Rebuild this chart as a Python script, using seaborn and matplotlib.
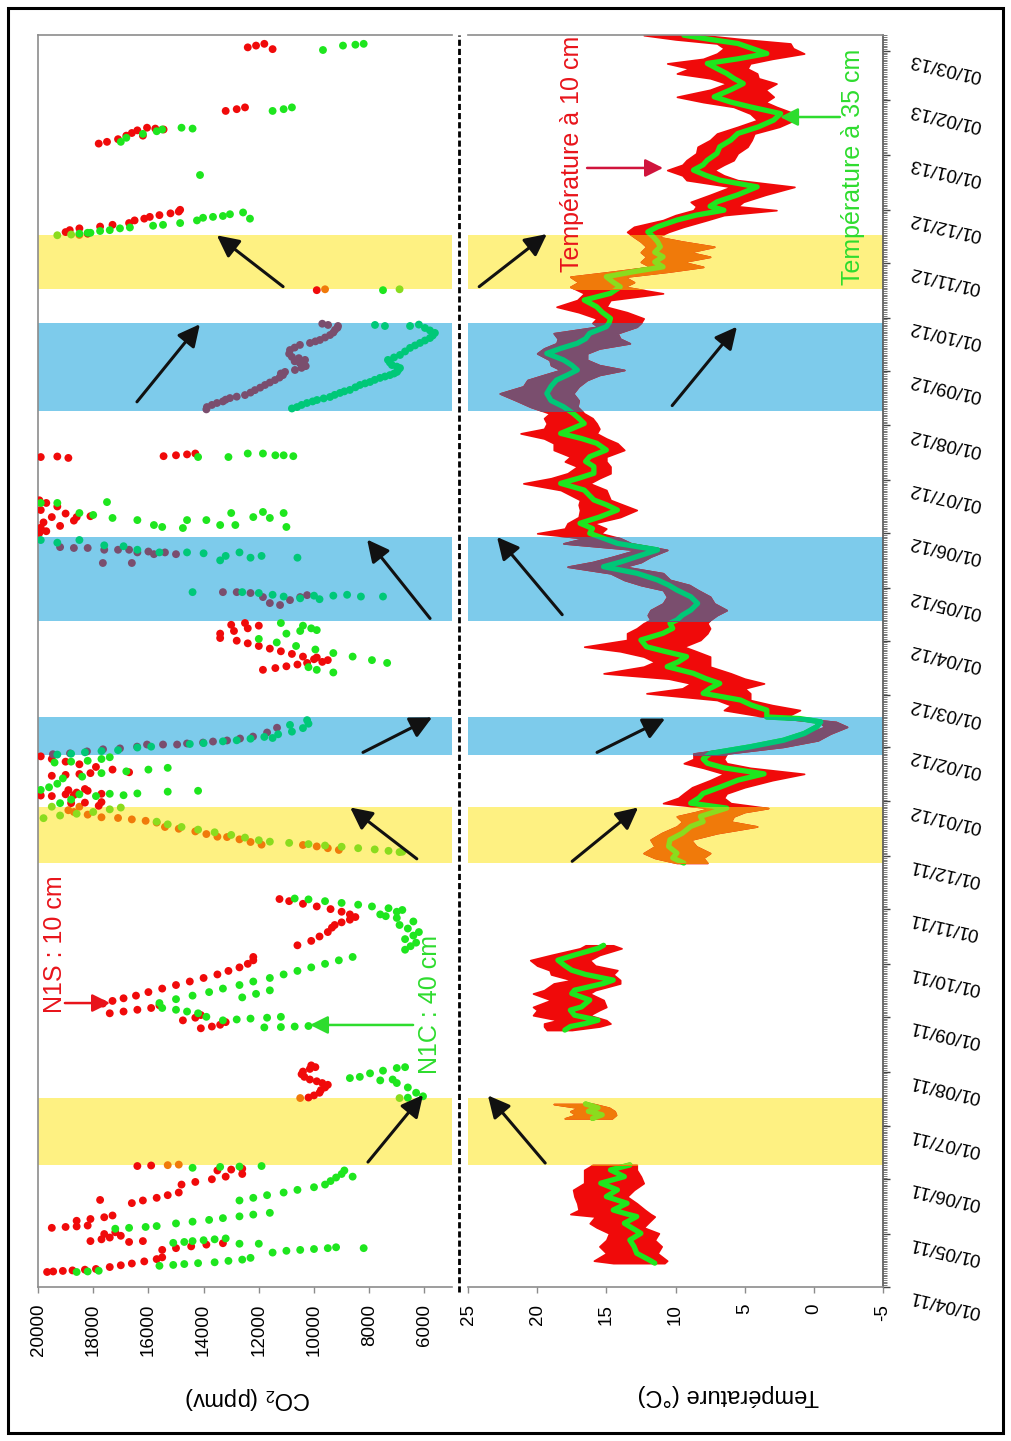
import numpy as np
import pandas as pd
import matplotlib
matplotlib.use("Agg")
import matplotlib.pyplot as plt
import matplotlib.dates as mdates
import matplotlib.transforms as mtransforms
from matplotlib.patches import Rectangle
from matplotlib.lines import Line2D
import seaborn as sns

# ---------------------------------------------------------------- data
# time is given as days since 01/04/2011
START_DATE = "2011-04-01"
END_DATE = "2013-03-10"

yellow_bands = [("2011-06-09", "2011-07-17"), ("2011-11-27", "2011-12-29"), ("2012-10-17", "2012-11-17")]
blue_bands = [("2012-01-27", "2012-02-18"), ("2012-04-12", "2012-05-30"), ("2012-08-09", "2012-09-28")]

co2_ticks = [20000, 18000, 16000, 14000, 12000, 10000, 8000, 6000]
temp_ticks = [25, 20, 15, 10, 5, 0, -5]

# CO2 N1S (10 cm) : (day, ppmv)
n1s_spring11 = [(8.5, 19670), (8.8, 19450), (9.1, 19100), (9.4, 18750), (9.8, 18300), (10.2, 17900),
                (11.3, 17400), (12.3, 17000), (13.3, 16600), (14.5, 16150), (15.8, 15700), (16.8, 15500),
                (21.0, 15500), (22.0, 15000), (23.0, 14450), (24.0, 13900), (24.8, 13300),
                (25.5, 16700), (26.0, 16200), (26.0, 18100), (27.0, 17700), (28.0, 17400), (29.0, 17000),
                (30.0, 17600), (31.0, 17200), (33.5, 19500), (34.0, 19000), (34.3, 18600), (34.8, 18200),
                (37.5, 18600), (38.5, 18100), (39.5, 17600), (40.5, 17300),
                (47.5, 16600), (49.0, 16200), (49.3, 17750), (50.5, 15700), (52.0, 15300), (53.5, 14900),
                (58.0, 14800), (59.5, 14300), (61.0, 13700), (62.5, 13200), (64.0, 12600),
                (66.0, 13500), (66.5, 13000), (67.0, 12600), (68.5, 16400), (68.8, 15900), (69.0, 15300), (69.3, 14900)]
n1s_summer11 = [(107.0, 10500), (107.3, 10200), (108.5, 10000), (110.0, 9800), (111.5, 9750), (113.0, 9600),
                (114.5, 9500), (115.5, 9700), (116.5, 9900), (117.5, 10150), (119.0, 10350), (120.5, 10450),
                (122.0, 10400), (123.5, 10150), (124.5, 9950), (125.5, 10100)]
n1s_autumn11 = [(146.5, 14100), (147.5, 13700), (148.5, 13400), (150.0, 13200), (151.0, 14750), (152.5, 14300),
                (154.0, 14100), (155.0, 17400), (156.0, 16900), (157.0, 16400), (158.0, 15900), (159.5, 15600),
                (160.5, 17650), (162.0, 17300), (163.5, 16900), (165.0, 16450), (167.0, 16000), (169.0, 15500),
                (171.0, 15000), (173.0, 14500), (175.0, 14000), (177.0, 13500), (179.0, 13100), (181.0, 12700),
                (183.0, 12400), (185.0, 12200), (186.9, 12200),
                (193.5, 10600), (196.0, 10100), (198.5, 9800), (201.0, 9500), (203.5, 9350), (205.0, 9250),
                (206.5, 9000), (208.0, 8700), (209.5, 8500), (211.0, 8700), (212.5, 9000), (214.0, 9400),
                (215.5, 9900), (217.0, 10400), (218.5, 10900), (219.7, 11250)]
n1s_winter12 = [(247.5, 9100), (248.5, 9500), (249.5, 9900), (250.3, 10400), (250.5, 11900), (252.0, 12300),
                (253.5, 12700), (254.8, 13150), (255.0, 13500), (256.5, 13900), (258.0, 14300), (259.5, 14900),
                (260.5, 15400), (263.0, 15700), (264.0, 16100), (264.8, 16600), (265.6, 17100), (266.0, 17700),
                (267.5, 18200), (269.0, 18700), (270.0, 18900),
                (272.0, 18500), (272.5, 17800), (274.0, 18800), (274.3, 18300), (274.6, 17700),
                (278.0, 19500), (278.3, 19900), (278.6, 18700), (279.0, 19000), (279.3, 17700), (280.0, 18600),
                (281.0, 18200), (281.4, 18900), (282.0, 18300), (289.5, 19500), (290.0, 19000), (290.5, 18500),
                (291.0, 18100), (291.5, 16700), (293.0, 17300), (294.5, 17900), (296.0, 18500), (297.5, 19000),
                (299.0, 19500), (300.5, 19900),
                (301.7, 19460), (302.2, 18840), (303.3, 18225), (304.5, 17645), (305.0, 17030), (306.0, 16410),
                (307.2, 16050), (307.2, 15470), (307.2, 14960), (307.8, 14600), (308.3, 14020), (308.9, 13660),
                (309.5, 13150), (310.6, 12680), (311.7, 12210), (314.0, 11700), (316.7, 11340)]
n1s_spring12 = [(349.5, 11850), (350.5, 11400), (351.5, 11000), (352.5, 10600), (353.4, 10250), (354.0, 9700),
                (355.0, 9500), (356.5, 9900), (355.5, 10000), (357.0, 10400), (358.5, 10800), (360.0, 11200),
                (361.5, 11600), (363.0, 12000), (364.5, 12400), (366.0, 12800), (367.5, 13400),
                (370.0, 13400), (371.5, 12900), (373.0, 12400), (374.5, 12000), (375.0, 13000), (376.0, 12500),
                (393.5, 13300), (393.5, 12800), (393.0, 12300), (390.7, 11850), (387.3, 11600), (386.2, 11230),
                (389.0, 10870), (390.7, 10500), (391.8, 10250),
                (419.0, 19200), (418.5, 18700), (418.5, 18200), (417.5, 17600), (417.5, 17100), (417.5, 16700),
                (416.0, 16400), (416.5, 16000), (415.0, 15800), (416.0, 15400), (415.0, 15000), (410.0, 17650),
                (410.0, 16600)]
n1s_summer12 = [(427.0, 19950), (428.0, 19700), (430.0, 19900), (431.0, 19200), (433.0, 19800), (434.0, 18700),
                (436.0, 19500), (436.0, 18600), (436.5, 18100), (438.0, 19000), (440.0, 19900), (442.0, 19300),
                (444.0, 19700), (445.5, 19950), (469.5, 18900), (470.0, 19900), (470.3, 19300), (470.5, 15450),
                (471.0, 15000), (471.5, 14600), (472.0, 14300),
                (497.0, 13900), (498.3, 13880), (499.5, 13700), (500.6, 13515), (501.5, 13300), (502.5, 13200),
                (503.4, 13045), (504.2, 12800), (505.1, 12500), (506.5, 12300), (507.9, 12140), (509.3, 11950),
                (510.8, 11775), (512.2, 11600), (513.6, 11415), (515.0, 11250), (516.4, 11125), (517.3, 11200),
                (518.2, 11050), (519.3, 10690), (520.5, 10450), (521.5, 10300), (523.2, 10510), (524.2, 10700),
                (525.0, 10325), (526.0, 10550), (526.7, 10800), (528.5, 10900), (530.6, 10870), (532.0, 10700),
                (533.5, 10510), (534.6, 10145), (535.5, 9950), (536.3, 9785), (537.7, 9600), (539.1, 9420),
                (540.5, 9300), (542.0, 9240), (543.2, 9150), (544.2, 9130), (544.8, 9490), (545.5, 9700)]
n1s_autumn12 = [(564.5, 9900), (565.0, 9600), (595.8, 18500), (596.5, 18200),
                (597.4, 19000), (598.5, 18850), (599.5, 18500), (600.5, 17750), (601.5, 17300), (602.5, 16700),
                (604.0, 16500), (605.0, 16150), (606.0, 15950), (607.0, 15600), (608.0, 15200), (609.0, 14900),
                (610.0, 14850), (647.5, 17800), (648.5, 17500), (650.0, 17100), (652.0, 16800), (652.0, 16200),
                (653.5, 16600), (655.0, 16400), (655.5, 15450), (656.0, 15750), (656.5, 16050),
                (666.0, 13200), (667.0, 12800), (668.0, 12500), (701.0, 11500), (702.0, 12400), (703.0, 12100),
                (704.0, 11800)]

# CO2 N1C (40 cm) : (day, ppmv)
n1c_spring11 = [(8.5, 18600), (8.8, 18200), (9.2, 17800), (12.0, 15600), (12.5, 15100), (13.0, 14700),
                (13.5, 14200), (14.0, 13600), (14.8, 13100), (15.5, 12600), (16.5, 12300),
                (19.5, 11500), (20.5, 11000), (21.0, 10500), (21.5, 10000), (22.0, 9500), (22.5, 9200), (22.0, 8200),
                (24.5, 12700), (24.5, 12000), (25.0, 15100), (25.5, 14700), (26.0, 14400), (26.5, 14000),
                (27.0, 13600), (27.5, 13200), (33.0, 17200), (33.5, 16700), (34.0, 16100), (34.5, 15700),
                (36.0, 15000), (37.0, 14400), (38.0, 13800), (39.0, 13300), (40.0, 12700), (41.0, 12200),
                (42.0, 11600), (49.0, 12700), (50.5, 12200), (52.0, 11700), (53.5, 11100), (55.0, 10600),
                (56.5, 10000), (58.0, 9600), (60.0, 9400), (62.0, 9200), (62.5, 8600), (64.0, 9000), (66.0, 8900),
                (67.5, 14400), (68.0, 13400), (68.2, 12700), (68.5, 11900)]
n1c_summer11 = [(107.0, 6900), (107.2, 6600), (108.0, 6050), (110.0, 6300), (113.0, 6600), (115.5, 7000),
                (117.0, 7600), (117.5, 7150), (118.3, 8700), (119.0, 8340), (121.0, 7970), (122.5, 7500),
                (124.0, 7000), (124.5, 6700)]
n1c_autumn11 = [(147.0, 11800), (147.2, 11200), (147.5, 10700), (147.8, 10200), (151.0, 13300), (151.5, 12800),
                (152.0, 12300), (152.5, 11700), (153.0, 11200), (153.0, 13900), (155.0, 14200), (156.0, 14600),
                (157.0, 15000), (158.0, 15500), (160.8, 15600), (163.0, 15000), (164.0, 12600), (165.0, 14400),
                (166.0, 12100), (167.0, 13800), (168.0, 11600), (169.0, 13300), (171.0, 12700), (173.0, 12200),
                (175.0, 11600), (177.0, 11100), (179.0, 10600), (181.0, 10100), (183.0, 9600), (185.0, 9100),
                (186.9, 8600), (191.0, 6700), (193.0, 6500), (195.0, 6300), (197.0, 6700), (199.0, 6400),
                (201.0, 6200), (203.0, 6600), (205.0, 6900), (207.0, 6400), (209.0, 7000), (210.0, 7400),
                (211.0, 7600), (212.5, 7000), (213.5, 6800), (214.5, 7300), (215.5, 7900), (216.5, 8400),
                (217.5, 9000), (218.5, 9600), (219.5, 10200), (220.0, 10700)]
n1c_winter12 = [(246.3, 6900), (246.5, 6800), (247.0, 7300), (247.8, 7800), (248.5, 8400), (249.3, 9000),
                (250.0, 9600), (250.8, 10200), (251.5, 10900), (252.2, 11600), (253.0, 12000), (254.5, 12500),
                (256.0, 13000), (257.5, 13600), (259.0, 14200), (260.5, 14800), (262.0, 15300), (263.5, 15700),
                (265.5, 19800), (267.0, 19200), (268.0, 18600), (269.0, 18000), (270.5, 17400), (271.5, 17000),
                (272.0, 19500), (274.0, 19200), (276.0, 18800), (278.0, 17900), (278.5, 16900), (279.0, 18500),
                (279.3, 17400), (279.5, 16400), (280.5, 15300), (281.0, 14200), (281.5, 19900), (283.0, 19600),
                (285.0, 19300), (288.0, 19100), (289.0, 18400), (291.0, 17700), (292.0, 16800), (293.0, 16000),
                (294.0, 15300), (297.0, 19400), (297.5, 18800), (298.0, 18200), (299.0, 17700), (300.0, 17400),
                (301.5, 19300), (302.0, 18800), (302.8, 18300), (303.5, 17700), (304.0, 17100), (305.5, 16400),
                (306.0, 15900), (307.5, 14500), (308.0, 14000), (309.0, 13300), (309.6, 12800), (310.5, 12300),
                (310.9, 11500), (311.5, 11800), (313.0, 11300), (314.5, 10800), (316.5, 10400), (318.3, 10870),
                (319.0, 10200), (321.0, 10250)]
n1c_spring12 = [(348.0, 9300), (349.5, 9900), (351.0, 10200), (353.4, 7350), (355.0, 7900), (357.0, 8600),
                (359.0, 9300), (361.0, 9950), (363.0, 10650), (365.0, 11350), (367.0, 12000), (370.0, 11000),
                (371.5, 10500), (372.0, 9900), (373.0, 10100), (374.5, 10400), (376.0, 11200),
                (391.0, 7500), (391.0, 8300), (392.0, 8800), (391.5, 9300), (389.5, 9800), (391.5, 10000),
                (390.0, 10500), (391.0, 11100), (392.0, 11500), (393.0, 12000), (393.5, 12600), (393.5, 14400),
                (413.0, 10600), (414.0, 11900), (413.0, 12300), (416.0, 12700), (414.0, 13200), (411.5, 13400),
                (415.5, 14000), (416.0, 14600), (416.0, 15600), (417.5, 16400), (419.5, 16900), (420.0, 17600),
                (423.0, 18500), (421.5, 19300), (423.0, 19900)]
n1c_summer12 = [(444.0, 19900), (444.0, 19300), (444.5, 17500), (438.3, 18500), (437.2, 18000), (435.5, 17300),
                (434.3, 16400), (431.5, 15800), (430.4, 15500), (434.3, 14600), (429.8, 14750), (434.3, 13900),
                (431.5, 13400), (438.3, 13000), (436.0, 12200), (438.9, 11850), (435.5, 11600), (430.4, 11000),
                (431.5, 12850), (438.3, 11100), (470.0, 14200), (470.0, 13100), (472.0, 12400), (472.0, 11850),
                (471.0, 11400), (471.0, 11100), (470.5, 10750),
                (497.5, 10800), (498.3, 10615), (499.5, 10450), (500.6, 10255), (501.5, 10050), (502.3, 9890),
                (503.2, 9650), (504.0, 9420), (505.2, 9250), (506.3, 9060), (507.2, 8900), (508.0, 8700),
                (509.5, 8500), (510.8, 8335), (511.7, 8150), (512.5, 7970), (513.7, 7800), (514.8, 7610),
                (515.6, 7430), (516.4, 7250), (517.3, 7100), (518.2, 6995), (519.3, 6950), (520.4, 6885),
                (521.2, 7000), (522.1, 7175), (523.5, 7250), (525.0, 7320), (526.4, 7100), (527.8, 6885),
                (529.8, 6700), (531.8, 6520), (533.2, 6340), (534.6, 6160), (536.0, 5980), (537.4, 5800),
                (538.8, 5700), (540.3, 5620), (541.7, 5800), (543.1, 5980), (544.2, 6520), (544.2, 7430),
                (544.8, 7790), (545.0, 6200)]
n1c_autumn12 = [(564.5, 7500), (565.0, 6900), (595.6, 19300), (596.0, 18800), (596.5, 18500), (597.0, 18200),
                (597.0, 18100), (598.0, 17750), (598.5, 17400), (599.5, 17030), (600.0, 16670), (601.0, 15830),
                (601.5, 15470), (602.5, 14850), (604.0, 14240), (605.0, 12320), (605.5, 14020), (606.0, 13660),
                (606.5, 13300), (607.5, 13045), (608.5, 12570), (629.7, 14130), (648.5, 17000), (650.8, 16800),
                (653.0, 16200), (654.5, 15700), (655.5, 15500), (656.0, 14400), (656.5, 14800),
                (666.0, 11500), (667.0, 11100), (668.0, 10800), (700.5, 9675), (703.0, 8950), (703.5, 8500),
                (704.0, 8200)]

# Temperature : day, 35 cm value, 10 cm min and max (daily amplitude)
temp_day = [13.5, 14.9, 19.1, 23.0, 26.6, 30.4, 33.7, 36.1, 39.9, 41.3, 43.6, 47.4, 51.2, 55.0, 58.8, 62.5, 66.3, 69.1,
            95.5, 97.5, 99.5, 101.5, 103.6,
            145.5, 147.5, 149.2, 151.1, 153.9, 156.8, 158.6, 162.5, 166.2, 168.1, 171.9, 173.8, 177.0, 179.4, 182.0,
            185.1, 188.0, 191.8, 193.5,
            240.1, 243.0, 245.7, 249.5, 253.3, 257.0, 260.8, 263.5, 266.5, 269.0, 271.2, 274.0, 277.0, 279.5, 283.0,
            287.0, 290.6, 294.0, 296.6, 299.0, 302.1, 305.9, 309.6, 313.4, 317.2, 320.0, 321.9, 322.8, 326.7, 329.5,
            332.4, 336.2, 339.0, 341.8, 344.5, 347.5, 351.3, 354.0, 357.0, 360.0, 362.6, 366.4, 370.2, 373.0, 375.9,
            377.7, 380.5, 383.3, 387.1, 390.9, 394.7, 397.5, 400.4, 404.2, 407.9, 410.5, 413.6, 417.4, 421.1, 424.0,
            426.8, 429.5, 432.5, 436.0, 440.0, 443.0, 445.7, 451.3, 455.1, 458.0, 460.8, 464.6, 467.5, 470.2, 474.0,
            477.8, 480.5, 483.4, 486.0, 489.0, 492.0, 494.7, 498.5, 502.0, 506.0, 510.0, 513.6, 516.5, 519.3, 522.0,
            525.0, 528.7, 531.5, 534.4, 537.0, 540.1, 543.8, 546.0, 548.5, 552.0, 555.1, 558.9, 562.7, 566.4, 569.0,
            572.1, 575.0, 577.7, 580.5, 583.4, 586.0, 589.1, 592.0, 594.7, 597.5, 600.4, 604.2, 607.0, 609.8, 612.0,
            614.5, 618.5, 623.0, 626.8, 629.5, 632.5, 635.5, 638.1, 642.0, 645.7, 649.5, 653.2, 657.0, 660.8, 664.5,
            668.3, 671.0, 674.0, 678.0, 681.5, 684.5, 687.2, 690.0, 692.9, 695.5, 698.5, 701.5, 704.2, 706.5, 708.9]
temp_35cm = [11.5, 11.8, 12.8, 13.0, 13.3, 12.5, 13.2, 13.7, 12.8, 13.5, 14.5, 13.5, 15.0, 14.2, 15.4, 13.7, 14.7, 13.3,
             16.0, 15.3, 16.3, 15.6, 16.5,
             18.0, 17.6, 16.5, 15.6, 17.3, 17.6, 16.8, 16.2, 17.5, 17.3, 15.2, 14.5, 16.5, 17.5, 18.0, 18.5, 17.3, 15.6,
             15.2,
             9.4, 10.2, 9.9, 10.5, 10.4, 9.5, 8.9, 8.0, 8.2, 7.2, 6.3, 8.9, 8.3, 8.0, 6.8, 5.5, 3.6, 6.5, 7.7, 8.0,
             7.5, 4.6, 2.2, 0.7, -0.2, -0.5, 1.0, 3.4, 3.4, 4.5, 5.3, 8.0, 7.5, 6.8, 7.8, 8.7, 10.6, 9.8, 9.2, 10.8,
             12.1, 12.5, 10.9, 10.2, 10.4, 9.9, 9.5, 8.9, 8.4, 8.9, 9.9, 10.5, 11.3, 12.8, 15.2, 14.0, 12.8, 11.3,
             14.2, 15.2, 16.2, 16.0, 16.9, 15.5, 14.2, 15.0, 15.9, 16.6, 18.3, 17.0, 15.9, 15.9, 16.5, 16.2, 15.0,
             15.7, 16.8, 18.3, 17.5, 16.6, 17.0, 17.4, 18.1, 19.0, 19.3, 19.0, 18.6, 17.8, 17.1, 17.5, 18.1, 19.3,
             18.3, 17.1, 16.5, 16.2, 15.0, 14.8, 14.7, 15.3, 15.7, 16.6, 14.7, 14.0, 14.5, 15.0, 13.0, 10.9, 11.5,
             10.9, 11.5, 11.1, 11.3, 11.6, 12.0, 11.3, 9.9, 8.5, 6.5, 7.5, 7.0, 5.5, 4.1, 6.8, 7.8, 8.7, 8.0, 7.7,
             7.0, 6.8, 6.0, 5.5, 4.0, 2.9, 2.4, 4.6, 6.0, 7.2, 6.0, 5.1, 5.8, 6.3, 7.0, 7.7, 5.5, 3.4, 4.5, 5.5,
             7.5, 9.4]
temp_10cm_min = [10.8, 10.6, 11.3, 11.0, 11.5, 11.2, 12.3, 12.0, 11.5, 11.8, 12.2, 12.8, 13.5, 13.0, 12.3, 12.5, 12.8, 12.8,
                 14.6, 14.3, 14.4, 14.8, 15.9,
                 17.5, 15.5, 14.7, 15.0, 16.2, 15.5, 15.0, 15.2, 16.2, 15.8, 14.0, 14.0, 14.5, 14.2, 15.8, 16.2, 15.5,
                 13.9, 14.5,
                 7.7, 8.0, 7.5, 8.5, 8.9, 7.0, 4.1, 6.0, 5.8, 5.0, 3.3, 6.0, 6.5, 6.3, 5.0, 3.0, 0.7, 4.6, 6.3, 6.5,
                 6.3, 2.2, -0.3, -1.2, -2.4, -1.6, 0.8, 2.0, 1.0, 3.0, 4.6, 4.6, 5.0, 3.6, 5.0, 6.0, 7.5, 7.5, 7.5,
                 8.5, 9.4, 8.2, 7.7, 7.5, 7.7, 7.5, 7.0, 6.3, 7.2, 7.5, 8.4, 9.0, 10.4, 10.9, 13.7, 12.5, 11.8, 10.6,
                 13.2, 14.0, 15.4, 15.0, 15.9, 14.0, 12.8, 13.8, 14.7, 15.0, 16.2, 15.5, 14.7, 14.7, 15.0, 15.0, 13.7,
                 14.2, 15.0, 15.7, 15.5, 15.7, 16.0, 16.6, 17.1, 17.0, 17.4, 17.0, 16.4, 15.5, 13.7, 15.5, 16.4, 16.4,
                 15.5, 13.3, 14.0, 14.2, 12.8, 12.5, 12.3, 13.5, 15.0, 14.7, 10.9, 13.7, 13.0, 13.7, 10.5, 8.0, 9.5,
                 7.5, 9.0, 7.2, 9.5, 11.3, 10.5, 9.4, 7.7, 6.5, 2.7, 5.5, 5.1, 3.5, 1.4, 5.5, 6.5, 7.2, 6.5, 5.8, 5.5,
                 4.8, 4.5, 4.3, 2.5, 1.4, 1.4, 2.7, 3.5, 2.9, 3.5, 2.7, 4.0, 4.1, 4.8, 4.6, 3.0, 0.7, 1.5, 1.7, 5.0,
                 8.0]
temp_10cm_max = [14.5, 15.9, 15.0, 15.5, 15.0, 14.8, 15.7, 16.2, 15.8, 17.6, 17.0, 17.1, 17.3, 17.4, 16.6, 16.6, 16.6, 16.0,
                 18.0, 17.2, 17.6, 17.0, 18.8,
                 19.3, 19.5, 19.5, 18.5, 20.3, 20.0, 20.3, 19.0, 20.3, 19.5, 18.8, 17.5, 19.0, 19.1, 20.0, 20.5, 19.0,
                 16.9, 16.5,
                 9.9, 11.5, 12.3, 11.5, 11.8, 11.0, 9.9, 9.5, 9.9, 8.5, 7.5, 10.9, 9.8, 9.4, 8.8, 7.5, 6.5, 8.0, 9.4,
                 8.7, 8.7, 5.1, 2.5, 0.5, -0.8, -0.4, 2.2, 3.5, 6.5, 6.0, 7.0, 12.1, 9.5, 8.9, 10.5, 15.2, 12.3, 11.5,
                 12.3, 14.0, 16.6, 13.5, 13.5, 12.8, 12.3, 11.8, 12.0, 11.8, 10.9, 10.6, 10.9, 12.5, 13.7, 14.7, 17.8,
                 16.0, 14.5, 12.8, 18.1, 16.6, 20.0, 18.0, 17.8, 17.0, 16.9, 17.0, 16.9, 18.3, 21.0, 19.0, 17.8, 17.1,
                 18.0, 17.6, 18.8, 18.8, 19.5, 21.2, 19.5, 19.3, 19.5, 19.1, 20.5, 21.5, 22.7, 21.0, 20.7, 19.5, 18.3,
                 19.0, 19.1, 20.0, 19.5, 18.6, 18.5, 18.8, 15.6, 16.0, 15.7, 17.0, 18.6, 17.1, 16.6, 17.6, 17.0, 17.6,
                 14.5, 11.8, 12.5, 12.1, 12.5, 12.1, 12.5, 13.0, 13.5, 13.0, 10.9, 10.0, 8.7, 8.5, 8.9, 7.5, 6.0, 9.2,
                 9.5, 10.6, 9.5, 9.2, 8.5, 8.4, 7.5, 7.0, 5.5, 4.1, 4.6, 5.8, 8.0, 9.9, 7.5, 6.3, 7.5, 9.9, 9.0, 10.6,
                 8.0, 7.0, 6.5, 7.0, 10.0, 12.3]

# ---------------------------------------------------------------- style
sns.set_theme(style="white")
plt.rcParams["font.family"] = ["Liberation Sans", "DejaVu Sans"]

RED, GREEN = "#F00A0A", "#1EE61E"
ORANGE, LIME = "#F07A0A", "#8ADC1E"
PURPLE, TEAL = "#7A4E6E", "#00C878"
YELLOW_BAND, BLUE_BAND = "#FEF182", "#7DCBEB"
SPINE = "#8C8C8C"

start = pd.Timestamp(START_DATE)


def dnum(days):
    return mdates.date2num(start + pd.to_timedelta(np.asarray(days, dtype=float), unit="D"))


ybands = [(mdates.date2num(pd.Timestamp(a)), mdates.date2num(pd.Timestamp(b))) for a, b in yellow_bands]
bbands = [(mdates.date2num(pd.Timestamp(a)), mdates.date2num(pd.Timestamp(b))) for a, b in blue_bands]


def band_of(v):
    for a, b in ybands:
        if a <= v <= b:
            return "_y"
    for a, b in bbands:
        if a <= v <= b:
            return "_b"
    return ""


# ---------------------------------------------------------------- figure
W, H = 1012, 1441
fig = plt.figure(figsize=(W / 100, H / 100), dpi=100)
fig.patch.set_facecolor("white")
ax_c = fig.add_axes([38 / W, 154 / H, 414 / W, 1252 / H])
ax_t = fig.add_axes([468 / W, 154 / H, 415 / W, 1252 / H])

ylo, yhi = mdates.date2num(pd.Timestamp(START_DATE)), mdates.date2num(pd.Timestamp(END_DATE))
for ax in (ax_c, ax_t):
    ax.set_facecolor("white")
    for a, b in ybands:
        ax.axhspan(a, b, color=YELLOW_BAND, lw=0, zorder=0)
    for a, b in bbands:
        ax.axhspan(a, b, color=BLUE_BAND, lw=0, zorder=0)
    ax.set_ylim(ylo, yhi)
    ax.grid(False)

# ---- CO2 panel
rows = []
for name, groups in (("N1S", [n1s_spring11, n1s_summer11, n1s_autumn11, n1s_winter12, n1s_spring12,
                              n1s_summer12, n1s_autumn12]),
                     ("N1C", [n1c_spring11, n1c_summer11, n1c_autumn11, n1c_winter12, n1c_spring12,
                              n1c_summer12, n1c_autumn12])):
    for g in groups:
        for d, p in g:
            v = float(dnum([d])[0])
            rows.append({"date": v, "ppm": p, "kind": name + band_of(v)})
co2 = pd.DataFrame(rows)
palette = {"N1S": RED, "N1S_y": ORANGE, "N1S_b": PURPLE, "N1C": GREEN, "N1C_y": LIME, "N1C_b": TEAL}
for name in ("N1S", "N1C"):
    sub = co2[co2["kind"].str.startswith(name)]
    sns.scatterplot(data=sub, x="ppm", y="date", hue="kind", palette=palette, s=32, linewidth=0,
                    legend=False, ax=ax_c, zorder=3)
ax_c.set_xlim(20000, 5000)
ax_c.set_ylim(ylo, yhi)
ax_c.set_xticks(co2_ticks)
ax_c.set_xticklabels([str(t) for t in co2_ticks])
ax_c.set_xlabel("")
ax_c.set_ylabel("")
ax_c.tick_params(axis="x", bottom=True, direction="out", length=4, width=1, colors=SPINE,
                 labelcolor="black", labelsize=13.5, pad=8, labelrotation=90)
ax_c.tick_params(axis="y", left=False, right=False, labelleft=False, labelright=False)
for s in ("left", "top", "bottom"):
    ax_c.spines[s].set_color(SPINE)
    ax_c.spines[s].set_linewidth(1.2)
ax_c.spines["right"].set_visible(False)

# ---- temperature panel
tday = np.asarray(temp_day, float)
t35 = np.asarray(temp_35cm, float)
tmin = np.asarray(temp_10cm_min, float)
tmax = np.asarray(temp_10cm_max, float)
tnum = dnum(tday)
cuts = np.where(np.diff(tday) > 15)[0] + 1
segments = np.split(np.arange(len(tday)), cuts)


def draw_temp(c10, c35, z, clip=None):
    for s in segments:
        f = ax_t.fill_betweenx(tnum[s], tmin[s], tmax[s], color=c10, lw=1.2, edgecolor=c10, zorder=z)
        ln, = ax_t.plot(t35[s], tnum[s], color=c35, lw=3.8, zorder=z + 0.5, solid_joinstyle="round")
        if clip is not None:
            f.set_clip_path(clip)
            ln.set_clip_path(clip)


draw_temp(RED, GREEN, 2)
blend = mtransforms.blended_transform_factory(ax_t.transAxes, ax_t.transData)
for (a, b), (c10, c35) in [(bb, (ORANGE, LIME)) for bb in ybands] + [(bb, (PURPLE, TEAL)) for bb in bbands]:
    draw_temp(c10, c35, 4, clip=Rectangle((0, a), 1, b - a, transform=blend))

ax_t.set_xlim(25, -5)
ax_t.set_ylim(ylo, yhi)
ax_t.set_xticks(temp_ticks)
ax_t.set_xticklabels([str(t) for t in temp_ticks])
ax_t.tick_params(axis="x", bottom=True, direction="out", length=4, width=1, colors=SPINE,
                 labelcolor="black", labelsize=13.5, pad=8, labelrotation=90)
ax_t.yaxis.tick_right()
ax_t.yaxis.set_major_locator(mdates.MonthLocator())
ax_t.yaxis.set_major_formatter(mdates.DateFormatter("%d/%m/%y"))
ax_t.yaxis.set_minor_locator(mdates.DayLocator())
ax_t.tick_params(axis="y", which="major", right=True, direction="out", length=5, width=1, colors="#444444",
                 labelcolor="black", labelsize=13.5, pad=16)
ax_t.tick_params(axis="y", which="minor", right=True, direction="out", length=3, width=0.6, colors="#666666")
for s in ("top", "bottom"):
    ax_t.spines[s].set_color(SPINE)
    ax_t.spines[s].set_linewidth(1.2)
ax_t.spines["left"].set_visible(False)
ax_t.spines["right"].set_color("#555555")
ax_t.spines["right"].set_linewidth(1.2)
for lab in ax_t.get_yticklabels():
    lab.set_rotation(167)
    lab.set_rotation_mode("anchor")
    lab.set_horizontalalignment("right")
    lab.set_verticalalignment("bottom")

# ---- annotations
ax_c.text(0.041, 0.274, "N1S : 10 cm", transform=ax_c.transAxes, rotation=90, ha="center", va="center",
          color="#E8141B", fontsize=18)
ax_c.text(0.947, 0.226, "N1C : 40 cm", transform=ax_c.transAxes, rotation=90, ha="center", va="center",
          color="#2EDC2E", fontsize=18)
ax_t.text(0.2506, 0.905, "Température à 10 cm", transform=ax_t.transAxes, rotation=90, ha="center", va="center",
          color="#E8141B", fontsize=18)
ax_t.text(0.928, 0.8946, "Température à 35 cm", transform=ax_t.transAxes, rotation=90, ha="center", va="center",
          color="#2EDC2E", fontsize=18)


def arrow(ax, tail, head, color="#111111", lw=2.2, style="-|>,head_length=0.6,head_width=0.3", ms=22):
    ax.annotate("", xy=head, xytext=tail, xycoords="axes fraction", textcoords="axes fraction",
                arrowprops=dict(arrowstyle=style, color=color, lw=lw, mutation_scale=ms, shrinkA=0, shrinkB=0),
                annotation_clip=False, zorder=8)


arrow(ax_c, (0.065, 0.2268), (0.174, 0.2268), color="#E8141B", lw=1.8, ms=18)
arrow(ax_c, (0.906, 0.2093), (0.657, 0.2093), color="#2EDC2E", lw=1.8, ms=18)
arrow(ax_t, (0.287, 0.8938), (0.470, 0.8938), color="#D0143C", lw=1.8, ms=18)
arrow(ax_t, (0.896, 0.9345), (0.752, 0.9345), color="#2EDC2E", lw=1.8, ms=18)

for tail, head in [((0.797, 0.0998), (0.930, 0.1534)), ((0.915, 0.342), (0.754, 0.383)),
                   ((0.785, 0.427), (0.952, 0.455)), ((0.947, 0.534), (0.795, 0.597)),
                   ((0.239, 0.707), (0.391, 0.769)), ((0.592, 0.799), (0.432, 0.840))]:
    arrow(ax_c, tail, head)
for tail, head in [((0.186, 0.099), (0.048, 0.153)), ((0.251, 0.340), (0.410, 0.383)),
                   ((0.311, 0.427), (0.475, 0.454)), ((0.227, 0.537), (0.070, 0.599)),
                   ((0.492, 0.704), (0.648, 0.767)), ((0.027, 0.799), (0.190, 0.841))]:
    arrow(ax_t, tail, head)

# axis titles (upside down, as in the rotated original)
fig.text(248 / W, 1 - 1398 / H, r"$\mathregular{CO_2}$ (ppmv)", rotation=180, ha="center", va="center",
         fontsize=17, color="black")
fig.text(728 / W, 1 - 1395 / H, "Température (°C)", rotation=180, ha="center", va="center",
         fontsize=17, color="black")

# dashed separator and outer frame
fig.add_artist(Line2D([459 / W, 459 / W], [1 - 1292 / H, 1 - 35 / H], transform=fig.transFigure,
                      color="black", lw=2.0, ls=(0, (2.2, 1.1))))
fig.add_artist(Rectangle((8 / W, 8 / H), 995 / W, 1425 / H, transform=fig.transFigure, fill=False,
                         lw=2.2, ec="black"))

fig.savefig("out.png", dpi=100)
